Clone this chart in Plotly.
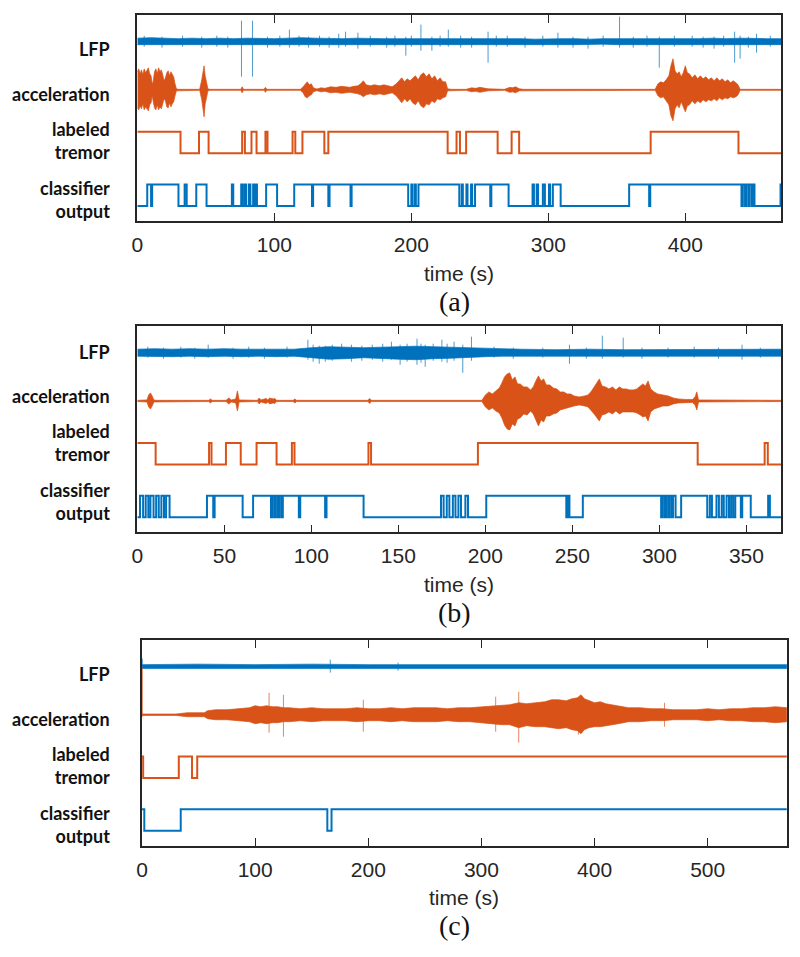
import plotly.graph_objects as go

BLUE = "#0072BD"
ORANGE = "#D95319"
AXC = "#262626"

# ================= DATA =================
row_labels = ["LFP", "acceleration", "labeled<br>tremor", "classifier<br>output"]
panel_tags = ["(a)", "(b)", "(c)"]
x_title = "time (s)"

# ---------- panel (a) ----------
a_xmax = 470
a_ticks = [0, 100, 200, 300, 400]
a_tremor_t = [0, 31.5, 45, 52, 76.5, 78.5, 83.3, 87, 93.5, 95, 113.3, 115.3, 120.5, 136.5, 139.4,
              226.5, 233, 235.5, 240, 263, 273.2, 278.7, 374.7, 438.8, 470]
a_tremor_v = [1, 0, 1, 0, 1, 0, 1, 0, 1, 0, 1, 0, 1, 0, 1,
              0, 1, 0, 1, 0, 1, 0, 1, 0, 0]
a_clf_t = [0, 7.2, 10, 10.8, 30, 34.5, 36, 43, 50.5, 69, 70, 75.8, 77, 78.5, 79.5, 81.5, 82.5,
           84.5, 85.5, 86.5, 87.3, 94, 102, 114.5, 127.5, 128.3, 139.4, 140.3, 155.6, 156.4,
           197.7, 200, 200.8, 202.5, 203.3, 205.2, 235, 236.8, 237.6, 240.2, 241, 243.6, 244.4,
           246.5, 257.6, 258.4, 271, 288.5, 289.5, 291.5, 292.5, 296, 297.5, 300.5, 301.3, 303.3,
           309, 359, 373.6, 374.4, 441, 442, 443.6, 444.4, 446, 446.8, 448.4, 449.2, 450.5, 469.5,
           470]
a_clf_v = [0, 1, 0, 1, 0, 1, 0, 1, 0, 1, 0, 1, 0, 1, 0, 1, 0,
           1, 0, 1, 0, 1, 0, 1, 0, 1, 0, 1, 0, 1,
           0, 1, 0, 1, 0, 1, 0, 1, 0, 1, 0, 1, 0,
           1, 0, 1, 0, 1, 0, 1, 0, 1, 0, 1, 0, 1,
           0, 1, 0, 1, 0, 1, 0, 1, 0, 1, 0, 1, 0, 1,
           1]
a_acc_t = [0, 1, 2, 3, 4, 5, 6, 7, 8, 9, 10, 10.8, 11.5, 12.5, 13.5, 14.5, 15.5, 16.5, 17.5,
           18.5, 19.5, 20.5, 21.5, 22.5, 23.5, 24.5, 25.5, 26.5, 27.5, 28.5, 30, 45.5, 47, 48,
           48.7, 49.5, 50.5, 51.5, 53, 75.5, 76.5, 77.5, 92.5, 93.5, 94.5, 119, 121, 122.5, 124,
           125.5, 127, 128.5, 131, 134, 137, 141, 145, 149, 152, 155, 158, 161, 163, 165, 167,
           170, 173, 177, 180, 183, 186, 189, 191, 193, 195, 197, 199, 201, 203, 205, 207, 209,
           211, 213, 215, 217, 219, 221, 223, 225, 226.5, 229, 240, 244, 247, 250, 253, 256,
           268, 272, 274, 276, 279, 282, 378, 380, 382, 384, 386, 388, 389.5, 391, 392.5, 394,
           395.5, 397, 398.5, 400, 401.5, 403, 405, 407, 409, 411, 413, 415, 417, 419, 421, 423,
           425, 427, 429, 431, 433, 435, 437, 438.5, 440, 470]
a_acc_up = [18, 21, 16, 20, 15, 21, 17, 20, 22, 16, 14, 6, 8, 18, 21, 16, 22, 18, 20,
            15, 9, 12, 17, 19, 14, 18, 15, 13, 6, 1, 0.5, 0.5, 10, 18,
            24, 14, 8, 1, 0.5, 0.5, 3, 0.5, 0.5, 2.5, 0.5, 0.5, 3, 6, 8,
            5, 6, 2, 0.8, 2, 1.5, 3, 2.5, 3.5, 3, 2.5, 3.5, 4, 6, 9, 5,
            4, 5, 4, 5, 4, 3, 6, 9, 12, 8, 11, 9, 12, 14, 10, 15, 17,
            13, 16, 11, 14, 9, 12, 8, 8, 1, 0.5, 0.5, 2, 1.5, 2.5, 2, 1,
            0.5, 2.5, 2, 3, 1, 0.5, 0.5, 6, 8, 7, 10, 14, 24, 31, 19, 16,
            18, 13, 17, 24, 17, 16, 12, 15, 11, 14, 11, 13, 10, 12, 9, 12,
            9, 11, 8, 10, 7, 9, 7, 5, 0.5, 0.5]
a_acc_dn = [18, 20, 16, 19, 14, 20, 17, 19, 21, 15, 13, 6, 8, 18, 20, 15, 20, 17, 19,
            14, 9, 11, 17, 18, 13, 17, 14, 12, 6, 1, 0.5, 0.5, 10, 19,
            27, 14, 8, 1, 0.5, 0.5, 3, 0.5, 0.5, 2.5, 0.5, 0.5, 3, 7, 8,
            6, 5, 2, 0.8, 2, 1.5, 3, 2.5, 3.5, 3, 2.5, 3.5, 4, 5, 7, 5,
            4, 5, 4, 5, 4, 3, 6, 9, 13, 9, 12, 9, 13, 15, 11, 16, 18,
            14, 15, 11, 13, 9, 10, 8, 7, 1, 0.5, 0.5, 2, 1.5, 2.5, 2, 1,
            0.5, 2.5, 2, 3, 1, 0.5, 0.5, 6, 8, 7, 11, 15, 26, 31, 19, 15,
            18, 12, 16, 22, 16, 15, 11, 14, 11, 13, 10, 12, 10, 11, 9, 11,
            8, 10, 8, 9, 7, 8, 7, 5, 0.5, 0.5]
a_lfp_t = [0, 10, 20, 30, 40, 50, 60, 70, 80, 90, 100, 110, 120, 130, 140, 150, 160, 170, 180, 190,
           200, 210, 220, 230, 240, 250, 260, 270, 280, 290, 300, 310, 320, 330, 340, 350, 360, 370,
           380, 390, 400, 410, 420, 430, 440, 450, 460, 470]
a_lfp_up = [3.5, 4, 3.5, 3, 3.5, 3, 3.5, 3, 3.5, 3, 3, 3.5, 4, 3.5, 3, 3, 3.5, 3, 3, 3,
            3, 3.5, 3, 3, 3, 3, 3, 3, 3, 2.5, 3, 3, 3, 2.5, 3, 3, 3, 3,
            2.5, 3, 3, 3, 3.5, 3, 3.5, 3, 3, 3]
a_lfp_dn = [3, 3.5, 3.5, 3, 3, 3.5, 3, 3, 3.5, 3, 3, 3.5, 3.5, 3, 3, 3.5, 3, 3, 3, 3,
            3, 3.5, 3, 3, 3, 3, 3, 3, 3, 3, 3, 3, 3, 3, 2.5, 3, 3, 3,
            3, 3, 3, 3.5, 3, 3, 3.5, 3, 3, 3]
a_lfp_spk_t = [5, 18, 33, 47, 58, 66, 76, 84, 95, 104, 111, 118, 125, 133, 140, 147, 152, 161,
               170, 182, 188, 196, 200, 207, 215, 221, 227, 236, 244, 256, 262, 270, 283, 296,
               307, 318, 329, 340, 352, 362, 372, 381, 392, 405, 413, 421, 428, 436, 440, 446,
               452, 462]
a_lfp_spk_up = [6, 5, 6, 5, 6, 5, 21, 21, 5, 6, 12, 6, 5, 6, 5, 8, 10, 9,
                6, 5, 6, 5, 6, 17, 5, 6, 12, 6, 5, 10, 6, 6, 5, 6,
                9, 5, 5, 6, 25, 5, 6, 5, 6, 6, 5, 5, 6, 10, 6, 5,
                8, 6]
a_lfp_spk_dn = [5, 6, 5, 6, 5, 6, 35, 35, 6, 5, 6, 5, 6, 5, 6, 6, 5, 7,
                5, 6, 5, 14, 5, 9, 9, 5, 5, 6, 6, 21, 5, 5, 6, 5,
                6, 6, 7, 5, 6, 6, 5, 26, 5, 5, 6, 7, 5, 21, 17, 6,
                11, 5]

# ---------- panel (b) ----------
b_xmax = 370
b_ticks = [0, 50, 100, 150, 200, 250, 300, 350]
b_tremor_t = [0, 10.5, 41.2, 42.6, 50.9, 59.4, 68.5, 80, 88.8, 90.3, 132.8, 134.3, 195.7, 322,
              360.5, 362.3, 370]
b_tremor_v = [1, 0, 1, 0, 1, 0, 1, 0, 1, 0, 1, 0, 1, 0, 1, 0, 0]
b_clf_t = [0, 1.5, 3.3, 4.8, 6.3, 7.5, 9.3, 10.8, 12.3, 13.8, 15.3, 16.5, 18.5,
           40, 43.6, 44.4, 60.5, 66.5, 76.8, 77.6, 78.8, 79.6, 80.8, 81.6, 82.8, 83.6, 92.8, 93.6,
           107.9, 108.7, 130,
           174.5, 176, 177.8, 179.3, 181.3, 182.8, 184.5, 186, 188.5, 190,
           200.5, 246.5, 247.3, 248.3, 256, 301, 301.8, 303, 303.8, 305, 305.8, 307, 307.8,
           309.3, 312.5, 327.5, 329, 330.2, 332.8, 334.2, 335.8, 337, 338.6, 340, 341.2, 342.4,
           343.6, 346.8, 347.6, 352.5, 362.5, 363.5, 370]
b_clf_v = [0, 1, 0, 1, 0, 1, 0, 1, 0, 1, 0, 1, 0,
           1, 0, 1, 0, 1, 0, 1, 0, 1, 0, 1, 0, 1, 0, 1,
           0, 1, 0,
           1, 0, 1, 0, 1, 0, 1, 0, 1, 0,
           1, 0, 1, 0, 1, 0, 1, 0, 1, 0, 1, 0, 1,
           0, 1, 0, 1, 0, 1, 0, 1, 0, 1, 0, 1, 0,
           1, 0, 1, 0, 1, 0, 0]
b_acc_t = [0, 5.5, 6.5, 7.5, 8.5, 9.5, 11, 41, 42, 43, 51, 52.5, 54, 56.5, 57.5, 58.5, 69, 70,
           71, 74, 75, 76, 78, 79, 80, 89.5, 90.5, 91.5, 132.5, 133.5, 134.5, 198, 200, 202,
           204, 206, 208, 209.5, 211, 212.5, 214, 215.5, 217, 218.5, 220, 222, 224, 226, 227.5,
           229, 230.5, 232, 233.5, 235, 237, 239, 241, 243, 245, 247, 249, 251, 254, 257, 259,
           261, 262.5, 264, 265.5, 267, 269, 271, 273, 275, 277, 279, 281, 283, 285, 287, 289,
           290.5, 292, 293.5, 295, 297, 299, 302, 305, 308, 311, 315, 319, 320.5, 321.5, 322.5,
           370]
b_acc_up = [0.6, 1, 6, 8, 5, 1, 0.6, 0.6, 2, 0.6, 0.6, 3, 1, 2, 10, 1, 0.6, 3,
            1, 2.5, 1, 3, 2, 2.5, 0.6, 0.6, 2, 0.6, 0.6, 2.5, 0.6, 0.6, 6, 9,
            7, 10, 13, 18, 24, 27, 28, 21, 24, 17, 17, 14, 14, 11, 14,
            20, 25, 20, 22, 16, 16, 13, 12, 9, 9, 7, 7, 5, 4, 5, 6,
            10, 14, 18, 22, 15, 14, 12, 14, 11, 14, 12, 12, 11, 11, 12, 15,
            17, 15, 20, 12, 9, 7, 6, 5, 3, 2, 1.5, 1.5, 4, 9, 1,
            0.6]
b_acc_dn = [0.6, 1, 6, 8, 5, 1, 0.6, 0.6, 2, 0.6, 0.6, 3, 1, 2, 10, 1, 0.6, 3,
            1, 2.5, 1, 3, 2, 2.5, 0.6, 0.6, 2, 0.6, 0.6, 2.5, 0.6, 0.6, 6, 9,
            7, 10, 12, 17, 24, 28, 29, 23, 25, 18, 17, 13, 14, 10, 13,
            19, 25, 19, 21, 15, 15, 13, 12, 9, 8, 7, 6, 5, 4, 5, 6,
            10, 13, 16, 20, 14, 13, 11, 13, 10, 13, 11, 11, 11, 11, 12, 14,
            16, 15, 20, 11, 8, 7, 5, 5, 3, 2, 1.5, 1.5, 4, 9, 1,
            0.6]
b_lfp_t = [0, 10, 20, 30, 40, 50, 60, 70, 80, 90, 100, 110, 120, 130, 140, 150, 160, 170, 180,
           190, 200, 210, 220, 240, 260, 280, 300, 320, 340, 360, 370]
b_lfp_up = [3.5, 4, 3.5, 4, 3.5, 4, 3.5, 3.5, 4, 3.5, 5, 6, 5.5, 5, 5.5, 6, 6.5, 6, 5.5,
            5, 4, 3.5, 3.5, 3, 3.5, 3, 3, 3.5, 3, 3.5, 3.5]
b_lfp_dn = [3.5, 4, 4, 3.5, 4, 3.5, 4, 3.5, 4, 3.5, 5, 6.5, 6, 5, 5.5, 6.5, 7, 6, 5.5,
            5, 4, 3.5, 3.5, 3, 3.5, 3, 3, 3.5, 3, 3.5, 3.5]
b_lfp_spk_t = [6, 15, 25, 33, 40.7, 55, 64, 73, 86, 98, 101, 104.5, 108, 112, 117.4, 123, 129,
               135, 141, 146, 151, 155, 160.7, 163, 165.4, 170, 175, 178, 182, 187, 192, 205,
               216, 233, 248.3, 258, 267.2, 279.2, 290, 305, 320, 334, 347.5, 358]
b_lfp_spk_up = [6, 5, 6, 5, 8, 5, 6, 5, 6, 13, 8, 7, 7, 8, 9, 8, 7,
                8, 9, 11, 8, 9, 14, 9, 8, 9, 13, 9, 11, 8, 16, 6,
                5, 5, 8, 5, 17, 15, 5, 5, 6, 5, 8, 5]
b_lfp_spk_dn = [5, 6, 5, 6, 5, 6, 5, 6, 5, 7, 9, 11, 9, 8, 6, 9, 8,
                7, 9, 7, 12, 9, 12, 10, 14, 8, 9, 10, 8, 20, 8, 5,
                6, 5, 11, 6, 6, 5, 6, 5, 5, 6, 7, 5]

# ---------- panel (c) ----------
c_xmax = 570
c_ticks = [0, 100, 200, 300, 400, 500]
c_tremor_t = [0, 1, 32.5, 44.2, 48.8, 570]
c_tremor_v = [1, 0, 1, 0, 1, 1]
c_clf_t = [0, 2, 34.2, 163.8, 167.5, 570]
c_clf_v = [1, 0, 1, 0, 1, 1]
c_acc_t = [0, 30, 40, 55, 58, 65, 75, 85, 95, 100, 105, 110, 115, 120, 125, 130, 140, 150, 160,
           170, 180, 190, 200, 210, 220, 230, 240, 250, 260, 270, 280, 290, 300, 310, 318, 325,
           333, 340, 348, 356, 362, 368, 375, 380, 385, 388, 391, 395, 400, 405, 410, 415, 421,
           430, 440, 450, 460, 470, 480, 490, 500, 510, 520, 530, 540, 550, 560, 570]
c_acc_up = [0.7, 0.7, 2, 2, 4, 5, 5, 6, 7, 9, 8, 9, 8, 8, 7, 7, 6, 7, 6,
            6, 6, 7, 6, 6, 7, 6, 7, 7, 7, 6, 7, 7, 8, 9, 10, 10,
            12, 11, 12, 13, 15, 15, 14, 16, 17, 20, 16, 14, 12, 13, 11, 10, 9,
            7, 7, 6, 6, 5, 5, 5, 6, 5, 6, 6, 7, 7, 8, 7]
c_acc_dn = [0.7, 0.7, 2, 2, 4, 5, 5, 6, 7, 9, 8, 9, 8, 8, 7, 7, 6, 7, 6,
            6, 6, 7, 6, 6, 7, 6, 7, 7, 7, 6, 7, 7, 8, 9, 10, 10,
            13, 11, 12, 12, 13, 14, 13, 15, 16, 19, 15, 13, 12, 12, 11, 10, 9,
            7, 7, 6, 6, 5, 5, 5, 6, 5, 6, 6, 7, 7, 8, 7]
c_acc_spk_t = [0.3, 112.3, 125, 195.6, 312.6, 333, 385.7, 461.8]
c_acc_spk_up = [47, 22, 20, 15, 18, 23, 18, 12]
c_acc_spk_dn = [2, 18, 22, 17, 17, 28, 20, 12]
c_lfp_t = [0, 50, 100, 150, 200, 250, 300, 350, 400, 450, 500, 570]
c_lfp_up = [2, 2.5, 2, 2.5, 2, 2, 2.5, 2, 2, 2.5, 2, 2]
c_lfp_dn = [2, 2, 2.5, 2, 2, 2.5, 2, 2, 2.5, 2, 2, 2]
c_lfp_spk_t = [0.3, 166.4, 226.3]
c_lfp_spk_up = [8, 7, 4]
c_lfp_spk_dn = [1, 6, 4]

# ================= STYLE / LAYOUT =================
W, H = 800, 957
PAGE = 8              # default body margin of the page holding the figure
PXU = 21.5            # pixels per y unit (one step height)
CLF0, TRM0, ACC0, LFP0 = 0.0, 2.45, 5.40, 7.64
YR = [-0.70, 8.88]

# plot boxes in screen pixels: left, right, top, bottom
boxes = [(132.3, 781.0, 15.0, 221.0),
         (132.3, 781.0, 326.0, 532.3),
         (137.0, 786.7, 640.0, 845.7)]
# label centres (px from box top) per panel
label_pos = [(34, 79, 125, 184.5), (26, 70, 116.5, 175), (34, 79, 125.5, 184)]


def px(p):
    return (p - PAGE) / W


def py(p):
    return 1 - (p - PAGE) / H


fig = go.Figure()


def band(t, up, dn, off, color, xa, ya):
    xs = list(t) + list(t)[::-1]
    ys = [off + u / PXU for u in up] + [off - d / PXU for d in dn][::-1]
    fig.add_trace(go.Scatter(x=xs, y=ys, mode="lines", fill="toself", fillcolor=color,
                             line=dict(color=color, width=0.7), xaxis=xa, yaxis=ya,
                             hoverinfo="skip", showlegend=False))


def spikes(t, up, dn, off, color, xa, ya):
    xs, ys = [], []
    for ti, u, d in zip(t, up, dn):
        xs += [ti, ti, None]
        ys += [off + u / PXU, off - d / PXU, None]
    fig.add_trace(go.Scatter(x=xs, y=ys, mode="lines", line=dict(color=color, width=1),
                             opacity=0.7, xaxis=xa, yaxis=ya, hoverinfo="skip",
                             showlegend=False))


def steps(t, v, off, color, xa, ya):
    fig.add_trace(go.Scatter(x=t, y=[off + vi for vi in v], mode="lines",
                             line=dict(color=color, width=2, shape="hv"),
                             xaxis=xa, yaxis=ya, hoverinfo="skip", showlegend=False))


panels = [
    dict(xmax=a_xmax, ticks=a_ticks, tr=(a_tremor_t, a_tremor_v), cl=(a_clf_t, a_clf_v),
         acc=(a_acc_t, a_acc_up, a_acc_dn), accs=None,
         lfp=(a_lfp_t, a_lfp_up, a_lfp_dn), lfps=(a_lfp_spk_t, a_lfp_spk_up, a_lfp_spk_dn)),
    dict(xmax=b_xmax, ticks=b_ticks, tr=(b_tremor_t, b_tremor_v), cl=(b_clf_t, b_clf_v),
         acc=(b_acc_t, b_acc_up, b_acc_dn), accs=None,
         lfp=(b_lfp_t, b_lfp_up, b_lfp_dn), lfps=(b_lfp_spk_t, b_lfp_spk_up, b_lfp_spk_dn)),
    dict(xmax=c_xmax, ticks=c_ticks, tr=(c_tremor_t, c_tremor_v), cl=(c_clf_t, c_clf_v),
         acc=(c_acc_t, c_acc_up, c_acc_dn), accs=(c_acc_spk_t, c_acc_spk_up, c_acc_spk_dn),
         lfp=(c_lfp_t, c_lfp_up, c_lfp_dn), lfps=(c_lfp_spk_t, c_lfp_spk_up, c_lfp_spk_dn)),
]

annotations = []
layout_axes = {}
for i, p in enumerate(panels):
    n = "" if i == 0 else str(i + 1)
    xa, ya = "x" + n, "y" + n
    l, r, t, b = boxes[i]
    spikes(*p["lfps"], LFP0, BLUE, xa, ya)
    band(*p["lfp"], LFP0, BLUE, xa, ya)
    band(*p["acc"], ACC0, ORANGE, xa, ya)
    if p["accs"]:
        spikes(*p["accs"], ACC0, ORANGE, xa, ya)
    steps(*p["tr"], TRM0, ORANGE, xa, ya)
    steps(*p["cl"], CLF0, BLUE, xa, ya)

    layout_axes["xaxis" + n] = dict(
        domain=[px(l), px(r)], range=[0, p["xmax"]], tickvals=p["ticks"],
        ticks="inside", ticklen=8, tickwidth=1.2, tickcolor=AXC,
        showline=True, linecolor=AXC, linewidth=1.5, mirror="ticks",
        showgrid=False, zeroline=False, anchor=ya, ticklabelstandoff=4,
        tickfont=dict(family="Liberation Sans", size=21, color=AXC))
    layout_axes["yaxis" + n] = dict(
        domain=[py(b), py(t)], range=YR, showline=True, linecolor=AXC, linewidth=1.5,
        mirror=True, showticklabels=False, ticks="", showgrid=False, zeroline=False,
        anchor=xa)

    for lab, rel in zip(row_labels, label_pos[i]):
        annotations.append(dict(
            text=lab, xref="paper", yref="paper", x=px(107), y=py(t + rel),
            xanchor="right", yanchor="middle", align="right", showarrow=False,
            font=dict(family="Lato", size=18, color="#111111", weight="bold")))
    cx = (l + r) / 2
    annotations.append(dict(
        text=x_title, xref="paper", yref="paper", x=px(cx), y=py(b + 52),
        xanchor="center", yanchor="middle", showarrow=False,
        font=dict(family="Liberation Sans", size=21, color=AXC)))
    annotations.append(dict(
        text=panel_tags[i], xref="paper", yref="paper", x=px(452), y=py(b + 80),
        xanchor="center", yanchor="middle", showarrow=False,
        font=dict(family="Liberation Serif", size=28, color="#111111")))

fig.update_layout(
    width=W, height=H, margin=dict(l=0, r=0, t=0, b=0),
    paper_bgcolor="white", plot_bgcolor="white", showlegend=False,
    annotations=annotations, **layout_axes)

fig.write_html("out.html")
